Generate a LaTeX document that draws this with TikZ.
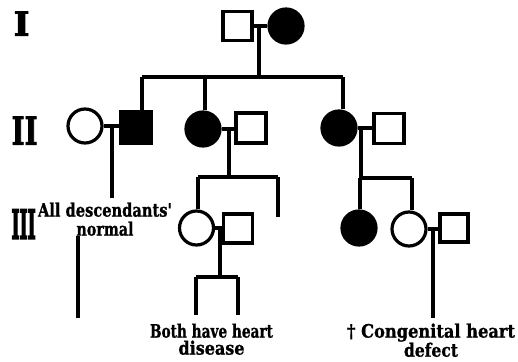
\documentclass[tikz,border=0pt]{standalone}
\usepackage{fontspec}
\setmainfont{DejaVu Serif}
\newfontfamily\heavy{DejaVu Serif Bold}[FakeBold=1.2]
\newfontfamily\heavier{DejaVu Serif Bold}[FakeBold=2.5]
\newfontfamily\heaviest{DejaVu Serif Bold}[FakeBold=5]
\usepackage{graphicx}
\newcommand{\lbl}[2]{\resizebox{#1}{14pt}{\heavy #2}}
\newcommand{\gennum}[3]{\resizebox{#1}{#2}{\heavier #3}}
\begin{document}
\begin{tikzpicture}[x=1pt,y=-1pt, line width=3.2pt,
  sq/.style={draw, rectangle, minimum size=29pt, inner sep=0pt},
  fsq/.style={sq, fill=black},
  ci/.style={draw, circle, minimum size=34pt, inner sep=0pt},
  fci/.style={ci, fill=black},
  lab/.style={align=center, inner sep=0pt, anchor=north, font=\fontsize{16}{17}\selectfont},
  gen/.style={inner sep=0pt, anchor=north west}]
\useasboundingbox (0,0) rectangle (518,361);
% generation labels
\node[gen] (g1) at (12,10) {\gennum{16pt}{24pt}{I}};
\node[gen] (g2) at (10,115) {\gennum{26pt}{28pt}{II}};
\node[gen] (g3) at (10,208) {\resizebox{24pt}{29pt}{\heaviest III}};
% generation I
\node[sq] (i1) at (237.5,26) {};
\node[fci] (i2) at (286,26) {};
\draw (i1.east) -- (i2.west);
\coordinate (m1) at (259,26);
\coordinate (b1) at (259,77);
\coordinate (sl1) at (142,77);
\coordinate (sm1) at (205,77);
\coordinate (sr1) at (343,77);
\draw (m1) -- (b1);
\draw (sl1) -- (sr1);
% generation II, left
\node[ci] (a1) at (85,126) {};
\node[fsq, minimum size=31pt] (a2) at (136,127.5) {};
\draw (a1.east) -- (a1.east -| a2.west);
\draw (sl1) -- (sl1 |- a2.north);
\coordinate (ma) at (112,126);
\coordinate (ea) at (112,198);
\draw (ma) -- (ea);
\coordinate (f1) at (78,236);
\coordinate (f2) at (78,318);
\draw (f1) -- (f2);
% generation II, middle
\node[fci] (b2) at (203,129) {};
\node[sq, minimum size=30pt] (b3) at (251,128) {};
\draw (sm1) -- (sm1 |- b2.north);
\draw (b2.east) -- (b2.east -| b3.west);
\coordinate (mb) at (229,129);
\coordinate (sb) at (229,177);
\coordinate (sbl) at (198,177);
\coordinate (sbr) at (278,177);
\coordinate (sbe) at (278,217);
\draw (mb) -- (sb);
\draw (sbl) -- (sbr);
\draw (sbr) -- (sbe);
% generation II, right
\node[fci] (c2) at (339,128) {};
\node[sq, minimum size=30pt] (c3) at (389,128.5) {};
\draw (sr1) -- (sr1 |- c2.north);
\draw (c2.east) -- (c2.east -| c3.west);
\coordinate (mc) at (361,128);
\coordinate (sc) at (361,178);
\coordinate (scl) at (360,178);
\coordinate (scr) at (412,178);
\draw (mc) -- (sc);
\draw (scl) -- (scr);
% generation III, middle
\node[ci] (d1) at (196.5,228) {};
\node[sq, minimum size=29pt] (d2) at (238,228.5) {};
\draw (sbl) -- (sbl |- d1.north);
\draw (d1.east) -- (d1.east -| d2.west);
\coordinate (md) at (220,228);
\coordinate (sd) at (220,277);
\coordinate (sdl) at (196,277);
\coordinate (sdr) at (238,277);
\coordinate (edl) at (196,315);
\coordinate (edr) at (238,315);
\draw (md) -- (sd);
\draw (sdl) -- (sdr);
\draw (sdl) -- (edl);
\draw (sdr) -- (edr);
% generation III, right
\node[fci] (e1) at (359,228) {};
\node[ci] (e2) at (409,229) {};
\node[sq, minimum size=28pt] (e3) at (454,228) {};
\draw (scl) -- (scl |- e1.north);
\draw (scr) -- (scr |- e2.north);
\draw (e2.east) -- (e2.east -| e3.west);
\coordinate (me) at (433,228);
\coordinate (ee) at (433,318);
\draw (me) -- (ee);
% labels
\node[lab, font=\fontsize{16}{19}\selectfont] (t1) at (105,201) {\lbl{134pt}{All descendants'}\\\lbl{57pt}{normal}};
\node[lab] (t2) at (211.5,322) {\lbl{123pt}{Both have heart}\\\lbl{66pt}{disease}};
\node[lab] (t3) at (431,322) {\lbl{168pt}{† Congenital heart}\\\lbl{54pt}{defect}};
\end{tikzpicture}
\end{document}
